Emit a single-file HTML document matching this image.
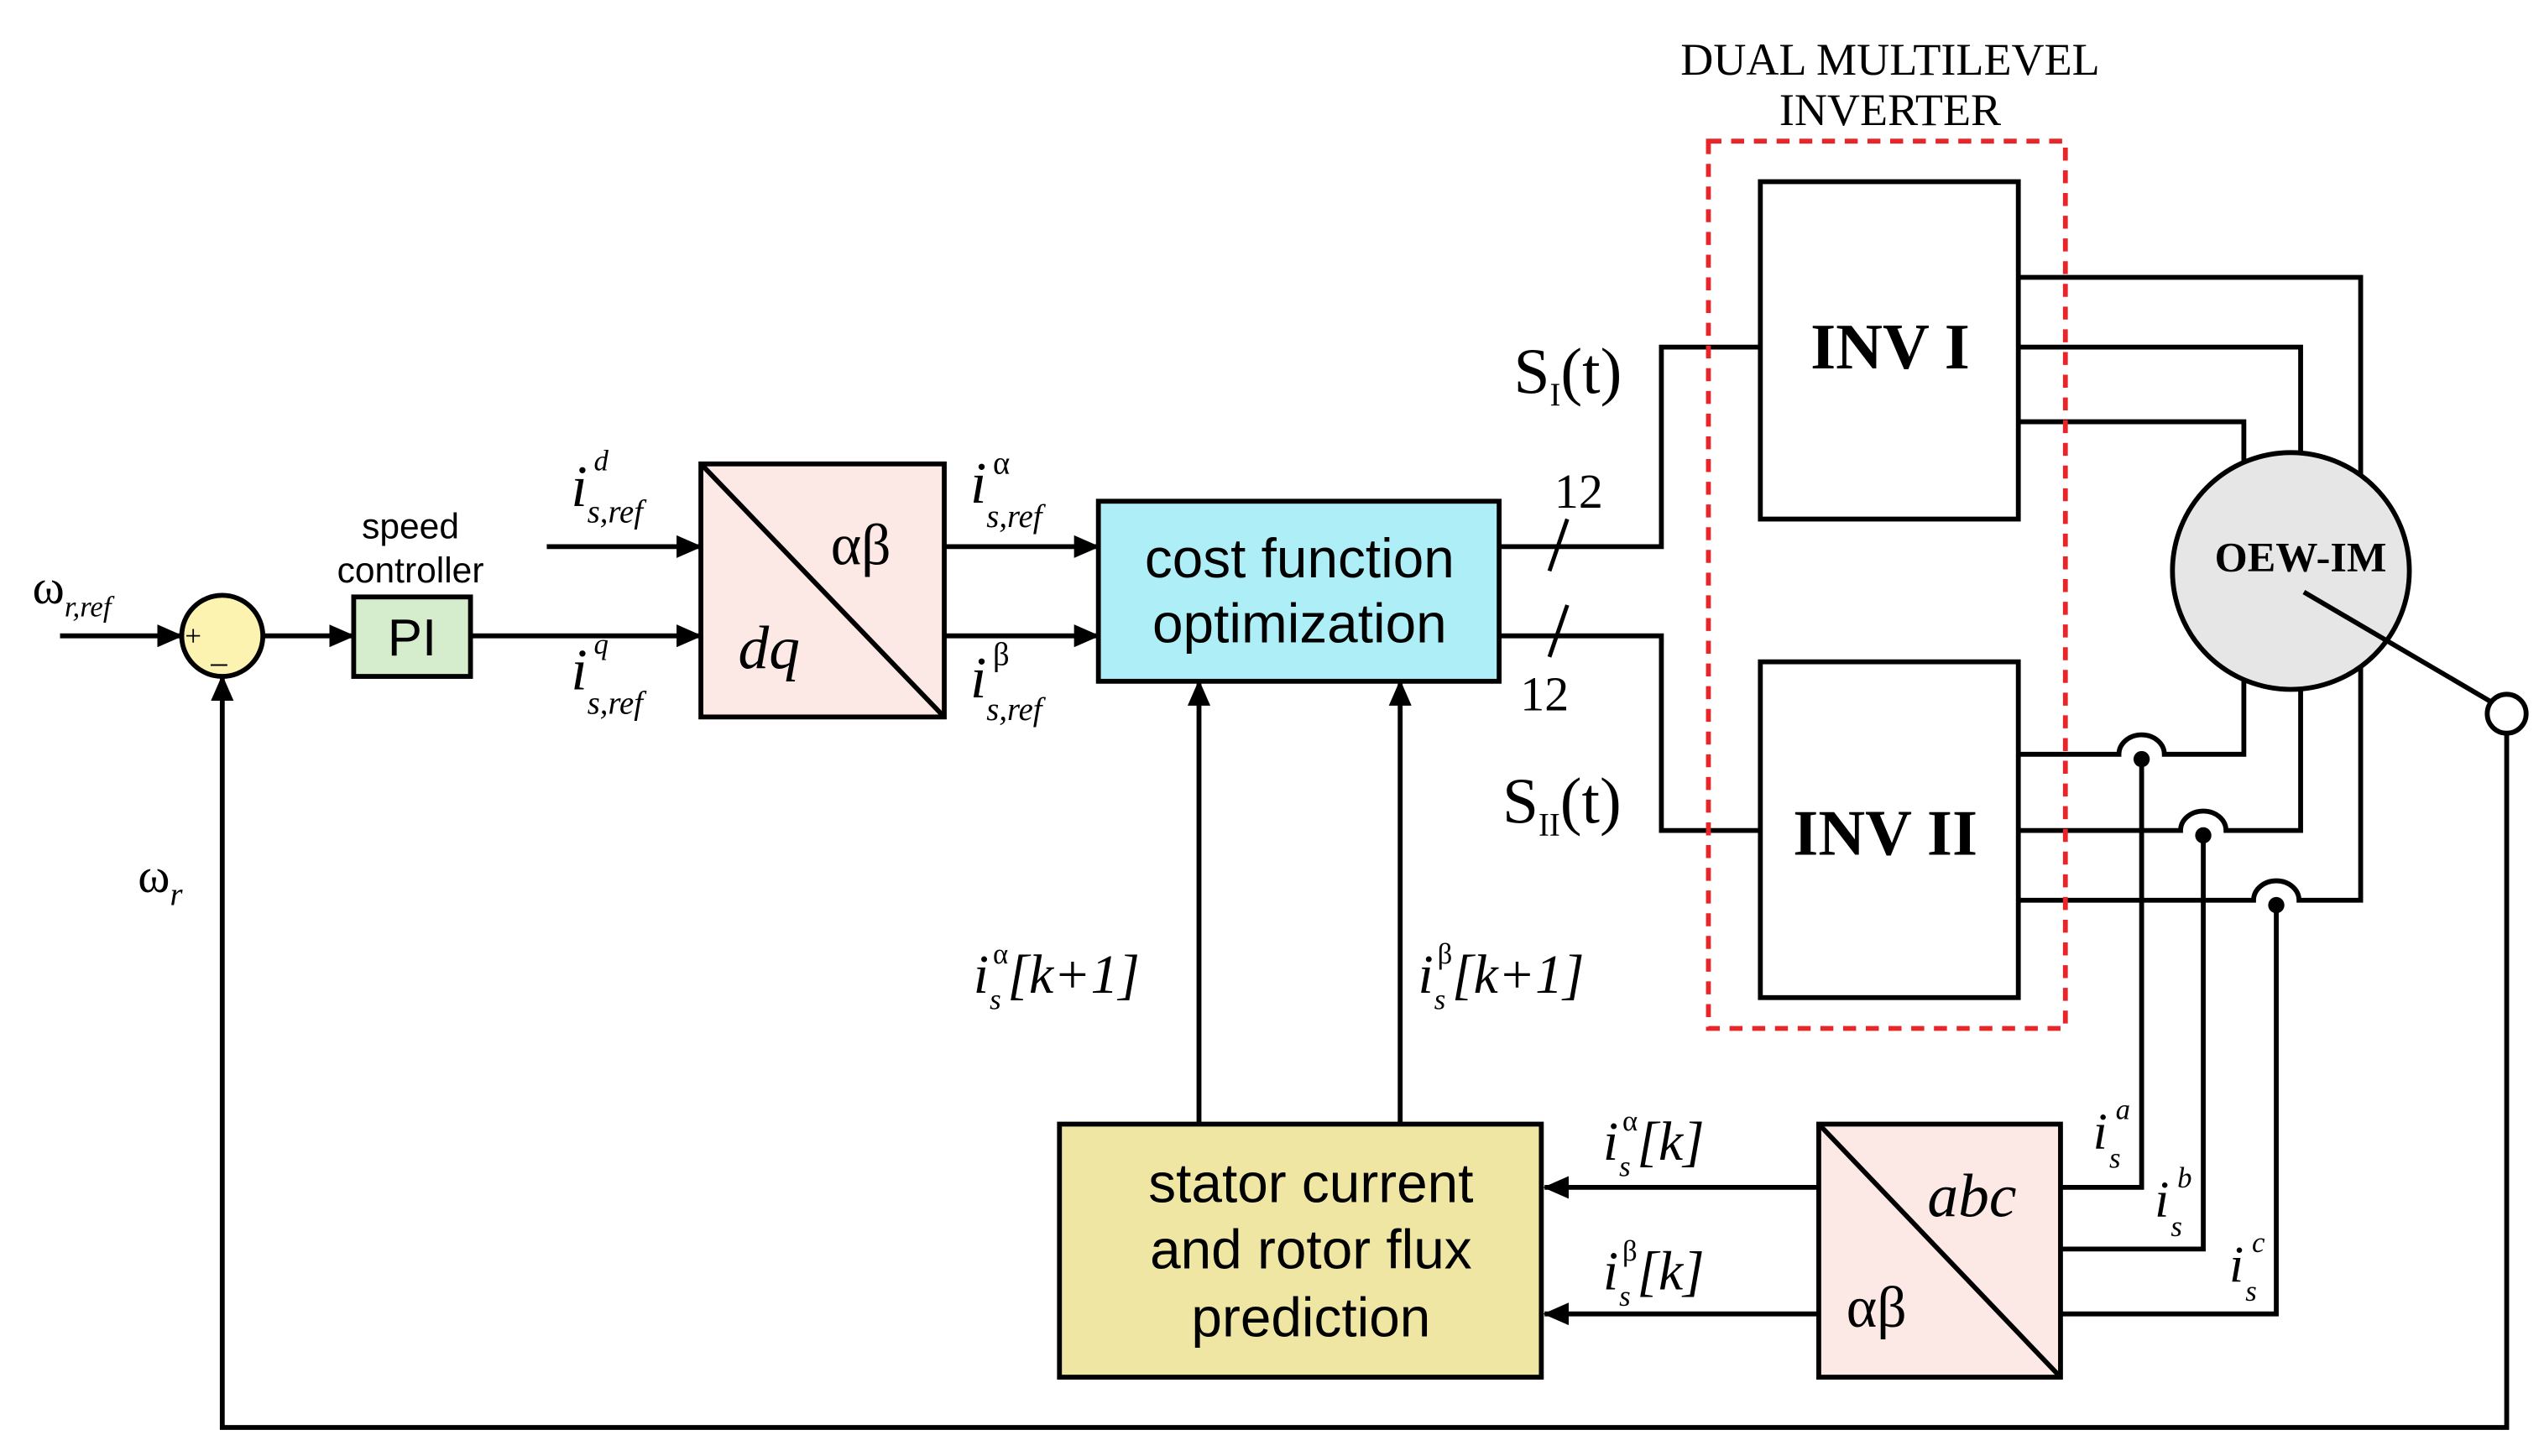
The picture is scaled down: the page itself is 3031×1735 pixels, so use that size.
<!DOCTYPE html>
<html><head><meta charset="utf-8"><style>
html,body{margin:0;padding:0;background:#fff;}
svg{display:block;}
.s{font-family:"Liberation Serif",serif;}
.a{font-family:"Liberation Sans",sans-serif;}
</style></head><body>
<svg width="3031" height="1735" viewBox="0 0 1568 897.6" preserveAspectRatio="none" xmlns="http://www.w3.org/2000/svg">
<defs>
<marker id="ar2" markerWidth="16" markerHeight="14" refX="15" refY="7" orient="auto" markerUnits="userSpaceOnUse" viewBox="0 0 16 14">
<path d="M0,0 L16,7 L0,14 z" fill="#000"/></marker>
</defs>
<g stroke="#000" stroke-width="3" fill="none">
<line x1="37" y1="392" x2="112" y2="392" marker-end="url(#ar2)"/>
<circle cx="137" cy="392" r="25" fill="#fdf3b0"/>
<line x1="162" y1="392" x2="218" y2="392" marker-end="url(#ar2)"/>
<rect x="218" y="368" width="72" height="49" fill="#d5edcc"/>
<line x1="290" y1="392" x2="432" y2="392" marker-end="url(#ar2)"/>
<line x1="337" y1="337" x2="432" y2="337" marker-end="url(#ar2)"/>
<rect x="432" y="286" width="150" height="156" fill="#fce8e4"/>
<line x1="432" y1="286" x2="582" y2="442"/>
<line x1="582" y1="337" x2="677" y2="337" marker-end="url(#ar2)"/>
<line x1="582" y1="392" x2="677" y2="392" marker-end="url(#ar2)"/>
<rect x="677" y="309" width="247" height="111" fill="#aeeef6"/>
<polyline points="924,337 1024,337 1024,214 1085,214"/>
<polyline points="924,392 1024,392 1024,512 1085,512"/>
<line x1="955" y1="352" x2="966" y2="320" stroke-width="2.5"/>
<line x1="955" y1="405" x2="966" y2="373" stroke-width="2.5"/>
<rect x="1085" y="112" width="159" height="208"/>
<rect x="1085" y="408" width="159" height="207"/>
<polyline points="1244,171 1455,171 1455,293"/>
<polyline points="1244,214 1418,214 1418,279"/>
<polyline points="1244,260 1383,260 1383,286"/>
<path d="M1244,465 H1306 A14,12 0 0 1 1334,465 H1383 V419"/>
<path d="M1244,512 H1344 A14,12 0 0 1 1372,512 H1418 V425"/>
<path d="M1244,555 H1389 A14,12 0 0 1 1417,555 H1455 V411"/>
<circle cx="1412" cy="352" r="73" fill="#e6e6e6"/>
<line x1="1420" y1="365" x2="1536" y2="433"/>
<circle cx="1545" cy="440" r="12" fill="#fff"/>
<polyline points="1545,452 1545,880 137,880 137,417" marker-end="url(#ar2)"/>
<polyline points="1320,465 1320,732 1270,732"/>
<polyline points="1358,512 1358,770 1270,770"/>
<polyline points="1403,555 1403,810 1270,810"/>
<rect x="1121" y="693" width="149" height="156" fill="#fce8e4"/>
<line x1="1121" y1="693" x2="1270" y2="849"/>
<line x1="1121" y1="732" x2="952" y2="732" marker-end="url(#ar2)"/>
<line x1="1121" y1="810" x2="952" y2="810" marker-end="url(#ar2)"/>
<rect x="653" y="693" width="297" height="156" fill="#efe6a4"/>
<line x1="739" y1="693" x2="739" y2="420" marker-end="url(#ar2)"/>
<line x1="863" y1="693" x2="863" y2="420" marker-end="url(#ar2)"/>
<rect x="1053" y="87" width="220" height="547" stroke="#e8262a" stroke-dasharray="8,6"/>
</g>
<g fill="#000">
<circle cx="1320" cy="468" r="5"/><circle cx="1358" cy="515" r="5"/><circle cx="1403" cy="558" r="5"/>
</g>
<g class="s" fill="#000">
<text x="20" y="372" font-size="30">ω<tspan font-size="18" font-style="italic" dy="8">r,ref</tspan></text>
<text x="114" y="398" font-size="18">+</text><text x="130" y="408" font-size="20">_</text>
<text x="85" y="550" font-size="30">ω<tspan font-size="20" font-style="italic" dy="8">r</tspan></text>
<text font-style="italic"><tspan x="352" y="312" font-size="36">i</tspan><tspan x="366" y="290" font-size="18">d</tspan><tspan x="362" y="322" font-size="20">s,ref</tspan></text>
<text font-style="italic"><tspan x="352" y="425" font-size="36">i</tspan><tspan x="366" y="403" font-size="18">q</tspan><tspan x="362" y="440" font-size="20">s,ref</tspan></text>
<text font-style="italic"><tspan x="598" y="310" font-size="36">i</tspan><tspan x="612" y="292" font-size="20" font-style="normal">α</tspan><tspan x="608" y="325" font-size="20">s,ref</tspan></text>
<text font-style="italic"><tspan x="598" y="430" font-size="36">i</tspan><tspan x="612" y="410" font-size="20" font-style="normal">β</tspan><tspan x="608" y="444" font-size="20">s,ref</tspan></text>
<text x="512" y="348" font-size="36">αβ</text>
<text x="455" y="412" font-size="38" font-style="italic">dq</text>
<text x="958" y="313" font-size="30">12</text>
<text x="937" y="438" font-size="30">12</text>
<text x="933" y="242" font-size="40">S<tspan font-size="20" dy="8">I</tspan><tspan dy="-8">(t)</tspan></text>
<text x="926" y="507" font-size="40">S<tspan font-size="20" dy="8">II</tspan><tspan dy="-8">(t)</tspan></text>
<text x="1165" y="46" font-size="28" text-anchor="middle">DUAL MULTILEVEL</text>
<text x="1165" y="77" font-size="28" text-anchor="middle">INVERTER</text>
<text x="1165" y="227" font-size="40" font-weight="bold" text-anchor="middle">INV I</text>
<text x="1162" y="527" font-size="40" font-weight="bold" text-anchor="middle">INV II</text>
<text x="1418" y="352" font-size="26" font-weight="bold" text-anchor="middle">OEW-IM</text>
<text x="1188" y="750" font-size="38" font-style="italic">abc</text>
<text x="1138" y="818" font-size="36">αβ</text>
<text font-style="italic"><tspan x="600" y="612" font-size="34">i</tspan><tspan x="612" y="594" font-size="18" font-style="normal">α</tspan><tspan x="610" y="622" font-size="18">s</tspan><tspan x="621" y="612" font-size="34">[k+1]</tspan></text>
<text font-style="italic"><tspan x="874" y="612" font-size="34">i</tspan><tspan x="886" y="594" font-size="18" font-style="normal">β</tspan><tspan x="884" y="622" font-size="18">s</tspan><tspan x="895" y="612" font-size="34">[k+1]</tspan></text>
<text font-style="italic"><tspan x="988" y="715" font-size="34">i</tspan><tspan x="1000" y="697" font-size="18" font-style="normal">α</tspan><tspan x="998" y="725" font-size="18">s</tspan><tspan x="1009" y="715" font-size="34">[k]</tspan></text>
<text font-style="italic"><tspan x="988" y="795" font-size="34">i</tspan><tspan x="1000" y="777" font-size="18" font-style="normal">β</tspan><tspan x="998" y="805" font-size="18">s</tspan><tspan x="1009" y="795" font-size="34">[k]</tspan></text>
<text font-style="italic"><tspan x="1290" y="708" font-size="32">i</tspan><tspan x="1304" y="690" font-size="18">a</tspan><tspan x="1300" y="720" font-size="18">s</tspan></text>
<text font-style="italic"><tspan x="1328" y="750" font-size="32">i</tspan><tspan x="1342" y="732" font-size="18">b</tspan><tspan x="1338" y="762" font-size="18">s</tspan></text>
<text font-style="italic"><tspan x="1374" y="790" font-size="32">i</tspan><tspan x="1388" y="772" font-size="18">c</tspan><tspan x="1384" y="802" font-size="18">s</tspan></text>
</g>
<g class="a" fill="#000" text-anchor="middle">
<text x="253" y="332" font-size="22">speed</text>
<text x="253" y="359" font-size="22">controller</text>
<text x="254" y="404" font-size="32">PI</text>
<text x="801" y="356" font-size="34">cost function</text>
<text x="801" y="396" font-size="34">optimization</text>
<text x="808" y="741" font-size="34">stator current</text>
<text x="808" y="782" font-size="34">and rotor flux</text>
<text x="808" y="824" font-size="34">prediction</text>
</g>
</svg>
</body></html>
